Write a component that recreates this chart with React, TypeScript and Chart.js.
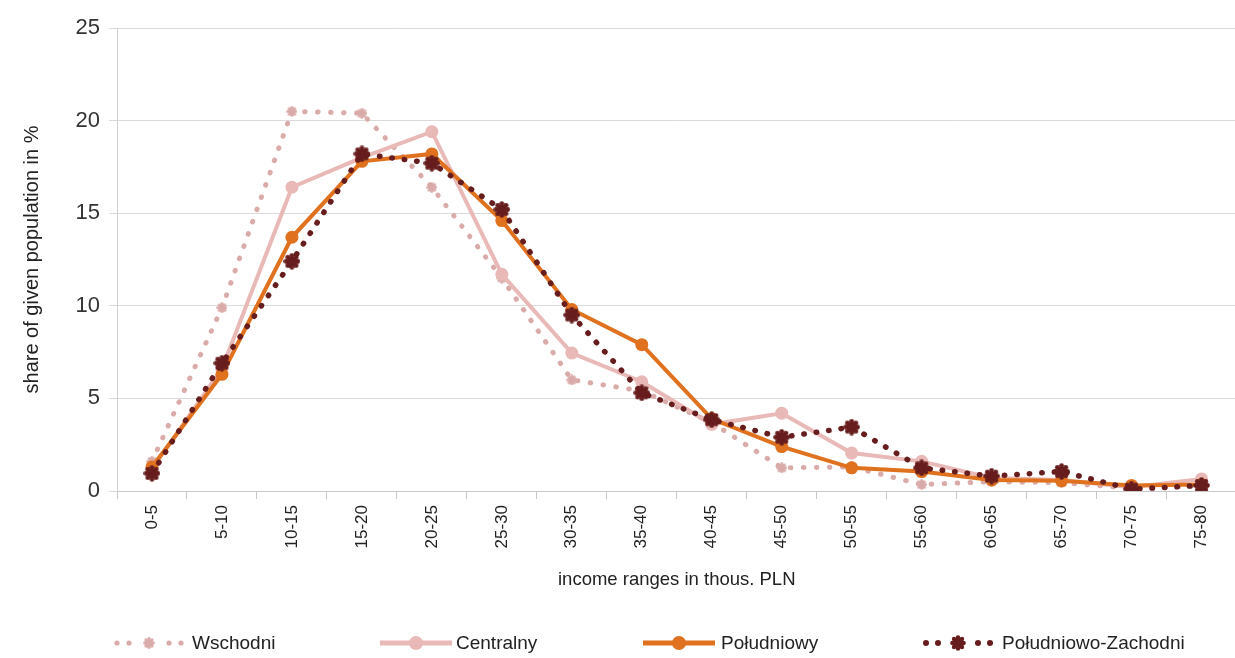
import React, { useEffect, useRef } from 'react';
import { Chart, registerables } from 'chart.js';

Chart.register(...registerables);

const categories = ['0-5', '5-10', '10-15', '15-20', '20-25', '25-30', '30-35', '35-40', '40-45', '45-50', '50-55', '55-60', '60-65', '65-70', '70-75', '75-80'];
const wschodni = [1.6, 9.9, 20.5, 20.4, 16.4, 11.5, 6.0, 5.4, 3.7, 1.25, 1.3, 0.35, 0.5, 0.45, 0.15, 0.3];
const centralny = [1.2, 6.6, 16.4, 18.0, 19.4, 11.7, 7.45, 5.9, 3.6, 4.2, 2.05, 1.6, 0.7, 0.6, 0.2, 0.65];
const poludniowy = [1.3, 6.3, 13.7, 17.8, 18.2, 14.6, 9.8, 7.9, 3.9, 2.4, 1.25, 1.05, 0.6, 0.55, 0.3, 0.35];
const poludniowoZachodni = [0.95, 6.9, 12.4, 18.2, 17.7, 15.2, 9.5, 5.3, 3.85, 2.9, 3.45, 1.25, 0.8, 1.05, 0.1, 0.3];
const seriesNames = ['Wschodni', 'Centralny', 'Południowy', 'Południowo-Zachodni'];
const yMin = 0;
const yMax = 25;
const yStep = 5;

const C_WSCH = '#D9ABA9';
const C_CENT = '#E8B9B6';
const C_POL = '#E0711F';
const C_PZ = '#671D1D';
const FONT = "'Liberation Sans', Arial, sans-serif";

function makeGear(color: string, size: number) {
  const c = document.createElement('canvas');
  c.width = size;
  c.height = size;
  const ctx = c.getContext('2d')!;
  const r = size / 2;
  ctx.fillStyle = color;
  ctx.beginPath();
  ctx.arc(r, r, r * 0.62, 0, Math.PI * 2);
  ctx.fill();
  for (let k = 0; k < 8; k++) {
    const a = (k * Math.PI) / 4;
    ctx.beginPath();
    ctx.arc(r + Math.cos(a) * r * 0.7, r + Math.sin(a) * r * 0.7, r * 0.28, 0, Math.PI * 2);
    ctx.fill();
  }
  return c;
}

function GearSvg({ cx, cy, r, color }: { cx: number; cy: number; r: number; color: string }) {
  const spikes = [];
  for (let k = 0; k < 8; k++) {
    const a = (k * Math.PI) / 4;
    spikes.push(<circle key={k} cx={cx + Math.cos(a) * r * 0.7} cy={cy + Math.sin(a) * r * 0.7} r={r * 0.28} fill={color} />);
  }
  return (
    <g>
      <circle cx={cx} cy={cy} r={r * 0.62} fill={color} />
      {spikes}
    </g>
  );
}

function LegendItem({ left, textLeft, kind, label }: { left: number; textLeft: number; kind: number; label: string }) {
  const w = 72;
  let sym: any = null;
  if (kind === 0 || kind === 3) {
    const color = kind === 0 ? C_WSCH : C_PZ;
    const dots = [4, 16, 56, 68];
    sym = (
      <g>
        {dots.map((x, i) => (
          <circle key={i} cx={x} cy={11} r={kind === 0 ? 2.6 : 3} fill={color} />
        ))}
        <GearSvg cx={36} cy={11} r={kind === 0 ? 6 : 8} color={color} />
      </g>
    );
  } else {
    const color = kind === 1 ? C_CENT : C_POL;
    sym = (
      <g>
        <line x1={0} y1={11} x2={w} y2={11} stroke={color} strokeWidth={5} />
        <circle cx={36} cy={11} r={7} fill={color} />
      </g>
    );
  }
  return (
    <>
      <svg style={{ position: 'absolute', left, top: 632, width: w, height: 22 }} width={w} height={22}>
        {sym}
      </svg>
      <div style={{ position: 'absolute', left: textLeft, top: 631, font: `19px ${FONT}`, color: '#222', whiteSpace: 'nowrap', lineHeight: '24px' }}>{label}</div>
    </>
  );
}

export default function App() {
  const ref = useRef<HTMLCanvasElement>(null);
  useEffect(() => {
    if (!ref.current) return;
    const gearDark = makeGear(C_PZ, 17);
    const gearPink = makeGear(C_WSCH, 11);
    const chart = new Chart(ref.current, {
      type: 'line',
      data: {
        labels: categories,
        datasets: [
          {
            label: seriesNames[0],
            data: wschodni,
            borderColor: C_WSCH,
            backgroundColor: C_WSCH,
            borderWidth: 5,
            borderDash: [0.5, 12.5],
            borderCapStyle: 'round',
            pointStyle: gearPink as any,
            pointRadius: 5,
            order: 4,
            tension: 0,
          },
          {
            label: seriesNames[1],
            data: centralny,
            borderColor: C_CENT,
            backgroundColor: C_CENT,
            borderWidth: 4,
            pointStyle: 'circle',
            pointRadius: 6.5,
            pointBorderWidth: 0,
            order: 3,
            tension: 0,
          },
          {
            label: seriesNames[2],
            data: poludniowy,
            borderColor: C_POL,
            backgroundColor: C_POL,
            borderWidth: 4,
            pointStyle: 'circle',
            pointRadius: 6.5,
            pointBorderWidth: 0,
            order: 2,
            tension: 0,
          },
          {
            label: seriesNames[3],
            data: poludniowoZachodni,
            borderColor: C_PZ,
            backgroundColor: C_PZ,
            borderWidth: 5.5,
            borderDash: [0.5, 12],
            borderCapStyle: 'round',
            pointStyle: gearDark as any,
            pointRadius: 8,
            order: 1,
            tension: 0,
          },
        ],
      },
      options: {
        responsive: false,
        animation: false,
        layout: { padding: { left: 0, right: 7, top: 28, bottom: 60 } },
        plugins: {
          legend: { display: false },
          tooltip: { enabled: false },
        },
        scales: {
          x: {
            offset: true,
            grid: { display: true, offset: true, drawOnChartArea: false, drawTicks: true, tickLength: 8, color: '#c8c8c8' },
            border: { display: true, color: '#c8c8c8', width: 1 },
            ticks: { minRotation: 90, maxRotation: 90, autoSkip: false, padding: 6, color: '#222', font: { family: FONT, size: 17 } },
            title: { display: true, text: 'income ranges in thous. PLN', color: '#222', font: { family: FONT, size: 18.5 }, padding: { top: 0, bottom: 7 } },
            afterFit: (s: any) => {
              s.height = 107;
            },
          },
          y: {
            min: yMin,
            max: yMax,
            ticks: { stepSize: yStep, padding: 9, color: '#333', font: { family: FONT, size: 22 } },
            grid: { color: '#dadada', lineWidth: 1, drawTicks: true, tickLength: 8 },
            border: { display: true, color: '#d0d0d0' },
            title: { display: true, text: 'share of given population in %', color: '#222', font: { family: FONT, size: 20 }, padding: { top: 20, bottom: 0 } },
            afterFit: (s: any) => {
              s.width = 117;
            },
          },
        },
      },
    });
    return () => chart.destroy();
  }, []);

  return (
    <div style={{ position: 'fixed', left: 0, top: 0, width: 1235, height: 658, overflow: 'hidden', background: '#fff' }}>
      <canvas ref={ref} width={1250} height={658} style={{ position: 'absolute', left: 0, top: 0 }} />
      <LegendItem left={113} textLeft={192} kind={0} label={seriesNames[0]} />
      <LegendItem left={380} textLeft={456} kind={1} label={seriesNames[1]} />
      <LegendItem left={643} textLeft={721} kind={2} label={seriesNames[2]} />
      <LegendItem left={922} textLeft={1002} kind={3} label={seriesNames[3]} />
    </div>
  );
}
